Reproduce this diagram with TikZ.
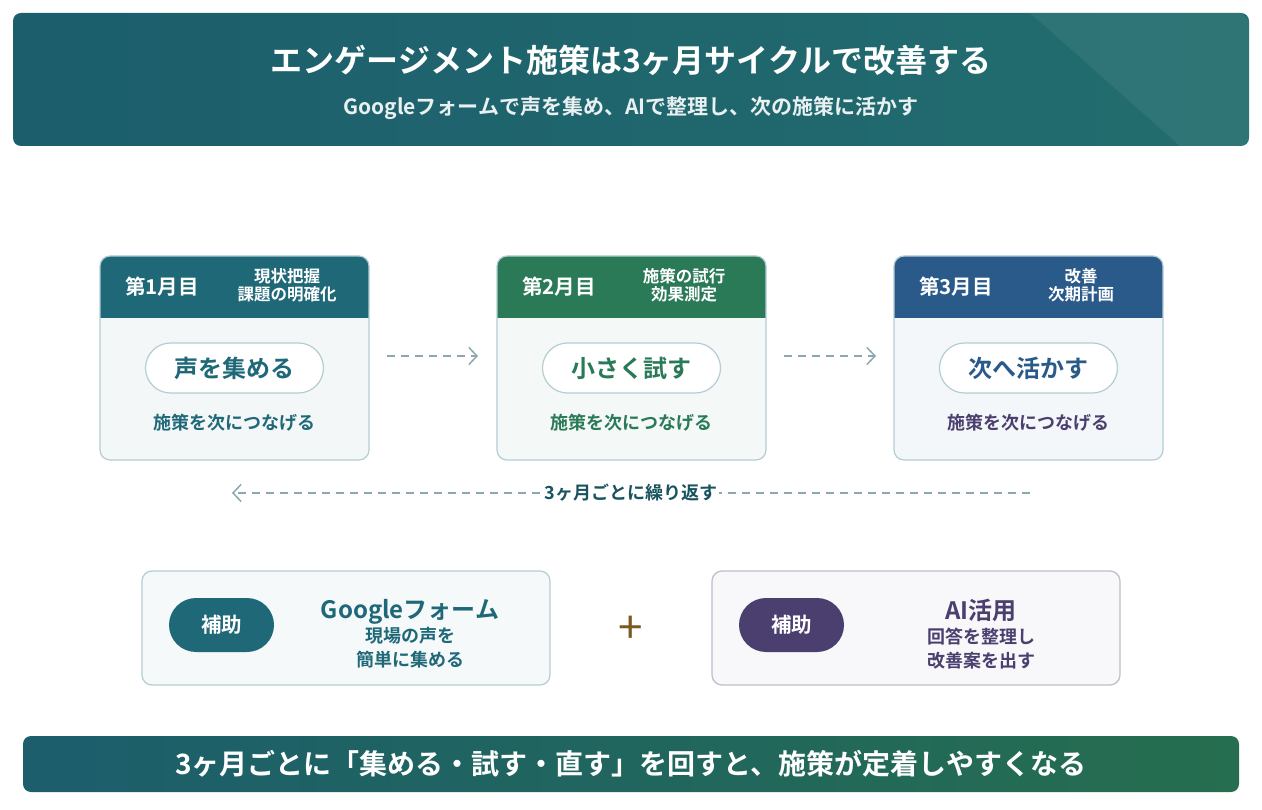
\documentclass[tikz,border=0pt]{standalone}
\usepackage{fontspec}
\setmainfont{Noto Sans CJK JP}[BoldFont={Noto Sans CJK JP Bold}]
\usetikzlibrary{positioning,arrows.meta}
\definecolor{tealD}{HTML}{1F6878}
\definecolor{greenD}{HTML}{2A7A58}
\definecolor{blueD}{HTML}{2A5A8A}
\definecolor{purpD}{HTML}{4A3F6E}
\definecolor{lineC}{HTML}{B4CDD4}
\definecolor{dashC}{HTML}{8AA8AE}
\definecolor{plusC}{HTML}{7A5A20}
\tikzset{
  card/.style={draw=lineC,line width=1.2pt,rounded corners=10pt},
  head/.style={text=white,font=\bfseries\fontsize{20.5}{22}\selectfont},
  sub/.style={text=white,font=\bfseries\fontsize{16.5}{18}\selectfont,align=center},
  pill/.style={draw=lineC,line width=1.2pt,fill=white,rounded corners=25pt,minimum width=178pt,minimum height=50pt,font=\bfseries\fontsize{24}{26}\selectfont},
  note/.style={font=\bfseries\fontsize{18}{20}\selectfont},
  flow/.style={dashC,line width=1.5pt,dash pattern=on 8pt off 6pt,-{Straight Barb[length=8pt,width=17pt,line width=1.5pt]}},
  aid/.style={text=white,rounded corners=27pt,minimum width=105pt,minimum height=54pt,font=\bfseries\fontsize{20.5}{22}\selectfont},
  aidtxt/.style={align=center,font=\bfseries\fontsize{18}{24}\selectfont}
}
\begin{document}
\begin{tikzpicture}[x=1pt,y=-1pt]
\useasboundingbox (0,0) rectangle (1262,810);
% title banner
\shade[left color=tealD!90!black,right color=tealD!70!greenD,rounded corners=8pt] (13,13) rectangle (1249,146);
\fill[white,opacity=0.06] (1030,13) -- (1241,13) -- (1249,21) -- (1249,146) -- (1180,146) -- cycle;
\node (title) at (631,60) [text=white,font=\bfseries\fontsize{32}{34}\selectfont] {エンゲージメント施策は3ヶ月サイクルで改善する};
\node (subtitle) at (631,108) [text=white!90!tealD,font=\bfseries\fontsize{21}{22}\selectfont] {Googleフォームで声を集め、AIで整理し、次の施策に活かす};
% month cards
\foreach \i/\x/\col/\m/\s/\p in {1/100/tealD/第1月目/現状把握\\課題の明確化/声を集める,
                               2/497/greenD/第2月目/施策の試行\\効果測定/小さく試す,
                               3/894/blueD/第3月目/改善\\次期計画/次へ活かす}{
  \fill[\col!5,rounded corners=10pt] (\x,256) rectangle ++(269,204);
  \fill[\col,rounded corners=10pt] (\x,256) rectangle ++(269,62);
  \fill[\col] (\x,300) rectangle ++(269,18);
  \draw[card] (\x,256) rectangle ++(269,204);
  \node (m\i) at (\x+62,287) [head] {\m};
  \node (s\i) at (\x+187,285) [sub] {\s};
  \node (p\i) at (\x+134.5,368) [pill,text=\col] {\p};
}
\node (n1) at (234.5,423) [note,text=tealD] {施策を次につなげる};
\node (n2) at (631.5,423) [note,text=greenD] {施策を次につなげる};
\node (n3) at (1028.5,423) [note,text=purpD] {施策を次につなげる};
\coordinate (a1) at (387,356); \coordinate (b1) at (478,356);
\coordinate (a2) at (784,356); \coordinate (b2) at (876,356);
\draw[flow] (a1) -- (b1);
\draw[flow] (a2) -- (b2);
\coordinate (r1) at (1030,493); \coordinate (r2) at (232,493);
\draw[flow] (r1) -- (r2);
\node (loop) at (631,493) [fill=white,inner sep=2pt,text=tealD!80!black,font=\bfseries\fontsize{18}{20}\selectfont] {3ヶ月ごとに繰り返す};
% support boxes
\draw[card,fill=tealD!4] (142,571) rectangle (550,685);
\node (g1) at (221.5,625) [aid,fill=tealD] {補助};
\node (g2) at (410,634) [aidtxt,text=tealD] {{\fontsize{24}{24}\selectfont Googleフォーム}\\現場の声を\\簡単に集める};
\node (plus) at (631,630) [text=plusC,font=\fontsize{44}{44}\selectfont] {+};
\draw[card,draw=purpD!35,fill=purpD!4] (712,571) rectangle (1120,685);
\node (ai1) at (791.5,625) [aid,fill=purpD] {補助};
\node (ai2) at (981,634) [aidtxt,text=purpD] {{\fontsize{24}{24}\selectfont AI活用}\\回答を整理し\\改善案を出す};
% footer
\shade[left color=tealD!90!black,right color=greenD!90!black,rounded corners=8pt] (23,736) rectangle (1239,792);
\node (foot) at (631,764) [text=white,font=\bfseries\fontsize{28}{30}\selectfont] {3ヶ月ごとに「集める・試す・直す」を回すと、施策が定着しやすくなる};
\end{tikzpicture}
\end{document}
